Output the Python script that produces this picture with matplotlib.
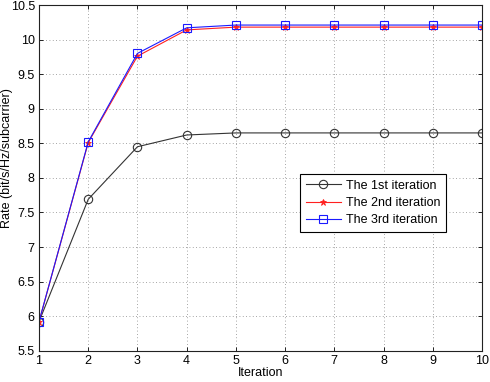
import matplotlib
matplotlib.use("Agg")
import matplotlib.pyplot as plt

plt.rcParams['font.family'] = ['Liberation Sans', 'DejaVu Sans']

iterations = [1, 2, 3, 4, 5, 6, 7, 8, 9, 10]
rate_1st = [5.92, 7.69, 8.45, 8.62, 8.65, 8.65, 8.65, 8.65, 8.65, 8.65]
rate_2nd = [5.92, 8.51, 9.76, 10.14, 10.18, 10.18, 10.18, 10.18, 10.18, 10.18]
rate_3rd = [5.92, 8.52, 9.80, 10.17, 10.21, 10.21, 10.21, 10.21, 10.21, 10.21]
labels = ['The 1st iteration', 'The 2nd iteration', 'The 3rd iteration']
yticks = [5.5, 6, 6.5, 7, 7.5, 8, 8.5, 9, 9.5, 10, 10.5]

fig = plt.figure(figsize=(4.9, 3.82), dpi=100)
ax = fig.add_axes([0.0796, 0.0819, 0.9041, 0.905])

ax.plot(iterations, rate_1st, color='#333333', lw=0.8, marker='o', ms=6,
        mfc='none', mec='#333333', mew=0.8, label=labels[0])
ax.plot(iterations, rate_2nd, color='#ff2020', lw=0.8, marker='*', ms=5,
        mfc='#ff2020', mec='#ff2020', mew=0.6, label=labels[1])
ax.plot(iterations, rate_3rd, color='#1a1aff', lw=0.8, marker='s', ms=6,
        mfc='none', mec='#1a1aff', mew=0.8, label=labels[2])

ax.set_xlim(1, 10)
ax.set_ylim(5.5, 10.5)
ax.set_xticks(iterations)
ax.set_yticks(yticks)
ax.set_yticklabels([('%g' % v) for v in yticks])
ax.tick_params(direction='in', top=True, right=True, labelsize=9, length=3, width=0.6, pad=3)
ax.grid(True, linestyle=(0, (1, 3)), color='#888888', lw=0.6)
for s in ax.spines.values():
    s.set_linewidth(0.8)
    s.set_color('#222222')
ax.set_xlabel('Iteration', fontsize=9, labelpad=0)
ax.set_ylabel('Rate (bit/s/Hz/subcarrier)', fontsize=9)
ax.yaxis.set_label_coords(-0.058, 0.557)

leg = ax.legend(loc='upper left', bbox_to_anchor=(0.589, 0.511), fontsize=9,
                frameon=True, fancybox=False, edgecolor='black', framealpha=1,
                borderpad=0.45, labelspacing=0.42, handlelength=2.8, handletextpad=0.4,
                borderaxespad=0)
leg.get_frame().set_linewidth(0.8)

fig.savefig('out.png', dpi=100)
